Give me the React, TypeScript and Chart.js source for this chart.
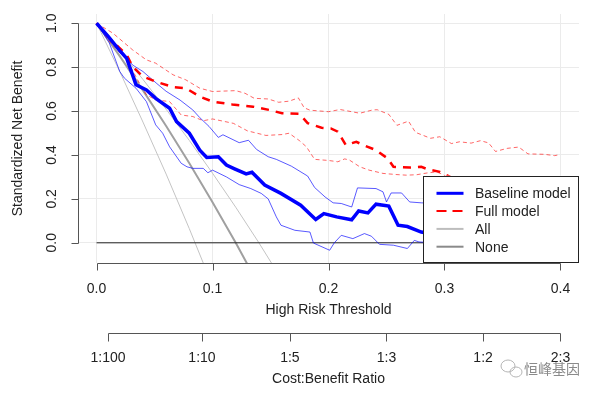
import React, { useEffect, useRef } from 'react';
import { Chart, registerables } from 'chart.js';

Chart.register(...registerables);

// ---- axis ticks ----
const X_TICKS = [0, 0.1, 0.2, 0.3, 0.4];
const X_TICK_LABELS = ['0.0', '0.1', '0.2', '0.3', '0.4'];
const Y_TICKS = [0, 0.2, 0.4, 0.6, 0.8, 1.0];
const Y_TICK_LABELS = ['0.0', '0.2', '0.4', '0.6', '0.8', '1.0'];
const CB_THRESHOLDS = [0.0099, 0.0909, 0.1667, 0.25, 0.3333, 0.4];
const CB_LABELS = ['1:100', '1:10', '1:5', '1:3', '1:2', '2:3'];

const X_TITLE = 'High Risk Threshold';
const CB_TITLE = 'Cost:Benefit Ratio';
const Y_TITLE = 'Standardized Net Benefit';
const LEGEND_LABELS = ['Baseline model', 'Full model', 'All', 'None'];

// ---- series (threshold, standardized net benefit) ----
const BASELINE_T = [0, 0.01, 0.02, 0.026, 0.034, 0.043, 0.051, 0.063, 0.069, 0.08, 0.089, 0.095, 0.105, 0.112, 0.119, 0.129, 0.134, 0.145, 0.159, 0.176, 0.189, 0.196, 0.207, 0.22, 0.226, 0.234, 0.241, 0.252, 0.26, 0.268, 0.28, 0.29];
const BASELINE_NB = [1.0, 0.94, 0.875, 0.84, 0.72, 0.696, 0.658, 0.613, 0.552, 0.499, 0.422, 0.389, 0.392, 0.354, 0.337, 0.314, 0.321, 0.263, 0.225, 0.171, 0.106, 0.133, 0.118, 0.105, 0.145, 0.136, 0.176, 0.167, 0.08, 0.074, 0.049, 0.04];

const BASE_UPPER_T = [0, 0.011, 0.02, 0.031, 0.04, 0.052, 0.06, 0.072, 0.083, 0.089, 0.097, 0.105, 0.109, 0.123, 0.131, 0.138, 0.148, 0.155, 0.168, 0.182, 0.188, 0.197, 0.204, 0.211, 0.22, 0.225, 0.241, 0.247, 0.25, 0.254, 0.263, 0.27, 0.28, 0.29];
const BASE_UPPER_NB = [1.0, 0.93, 0.885, 0.81, 0.78, 0.725, 0.69, 0.65, 0.605, 0.57, 0.53, 0.48, 0.492, 0.456, 0.467, 0.425, 0.392, 0.38, 0.349, 0.304, 0.252, 0.209, 0.182, 0.179, 0.163, 0.25, 0.247, 0.232, 0.186, 0.227, 0.227, 0.186, 0.182, 0.18];

const BASE_LOWER_T = [0, 0.011, 0.02, 0.024, 0.034, 0.043, 0.051, 0.057, 0.063, 0.073, 0.078, 0.083, 0.092, 0.096, 0.1, 0.112, 0.123, 0.133, 0.142, 0.148, 0.155, 0.159, 0.171, 0.184, 0.187, 0.201, 0.205, 0.211, 0.221, 0.231, 0.237, 0.244, 0.256, 0.268, 0.274, 0.278, 0.29];
const BASE_LOWER_NB = [1.0, 0.91, 0.78, 0.75, 0.704, 0.643, 0.537, 0.499, 0.437, 0.362, 0.346, 0.339, 0.339, 0.319, 0.331, 0.3, 0.265, 0.247, 0.225, 0.2, 0.118, 0.08, 0.057, 0.049, -0.001, -0.034, 0.0, 0.034, 0.019, 0.042, 0.03, -0.007, -0.011, -0.026, 0.011, 0.004, 0.0];

const FULL_T = [0, 0.011, 0.026, 0.031, 0.04, 0.051, 0.066, 0.077, 0.089, 0.1, 0.117, 0.135, 0.149, 0.16, 0.175, 0.182, 0.194, 0.202, 0.208, 0.215, 0.224, 0.23, 0.241, 0.251, 0.256, 0.27, 0.28, 0.286, 0.296, 0.305];
const FULL_NB = [1.0, 0.932, 0.856, 0.803, 0.757, 0.734, 0.709, 0.704, 0.666, 0.643, 0.63, 0.62, 0.605, 0.59, 0.587, 0.545, 0.524, 0.521, 0.506, 0.445, 0.46, 0.445, 0.422, 0.384, 0.346, 0.343, 0.346, 0.334, 0.323, 0.3];

const FULL_UPPER_T = [0, 0.014, 0.031, 0.043, 0.051, 0.066, 0.077, 0.089, 0.1, 0.12, 0.128, 0.136, 0.148, 0.157, 0.166, 0.174, 0.179, 0.184, 0.2, 0.21, 0.227, 0.238, 0.242, 0.252, 0.259, 0.269, 0.275, 0.288, 0.296, 0.306, 0.313, 0.323, 0.331, 0.338, 0.344, 0.354, 0.364, 0.372, 0.386, 0.395, 0.398];
const FULL_UPPER_NB = [1.0, 0.955, 0.879, 0.833, 0.818, 0.765, 0.742, 0.704, 0.689, 0.693, 0.681, 0.658, 0.655, 0.64, 0.645, 0.66, 0.615, 0.604, 0.597, 0.607, 0.59, 0.605, 0.606, 0.585, 0.535, 0.554, 0.503, 0.476, 0.483, 0.452, 0.46, 0.454, 0.465, 0.455, 0.416, 0.43, 0.436, 0.405, 0.403, 0.397, 0.4];

const FULL_LOWER_T = [0, 0.011, 0.026, 0.037, 0.043, 0.051, 0.063, 0.073, 0.083, 0.092, 0.1, 0.118, 0.13, 0.146, 0.16, 0.166, 0.175, 0.181, 0.188, 0.2, 0.208, 0.214, 0.218, 0.227, 0.235, 0.247, 0.258, 0.267, 0.276, 0.285, 0.293, 0.298, 0.305];
const FULL_LOWER_NB = [1.0, 0.917, 0.833, 0.727, 0.674, 0.651, 0.643, 0.582, 0.575, 0.556, 0.564, 0.544, 0.51, 0.489, 0.493, 0.499, 0.465, 0.437, 0.38, 0.375, 0.369, 0.382, 0.377, 0.346, 0.331, 0.316, 0.311, 0.308, 0.31, 0.318, 0.323, 0.313, 0.29];

const ALL_T = [0, 0.02, 0.04, 0.06, 0.08, 0.1, 0.12, 0.14, 0.16];
const ALL_NB = [1.0, 0.85, 0.694, 0.532, 0.362, 0.185, 0.0, -0.194, null];
const ALL_LOWER_NB = [1.0, 0.78, 0.55, 0.313, 0.064, -0.196, null, null, null];
const ALL_UPPER_NB = [1.0, 0.875, 0.744, 0.608, 0.466, 0.317, 0.162, 0.0, -0.17];

const NONE_T = [0, 0.4];
const NONE_NB = [0, 0];

const WATERMARK = '恒峰基因';

const FONT = '14px "Liberation Sans", Arial, sans-serif';
const TEXT = '#222';
const AXIS = '#555';

function pts(t: number[], v: (number | null)[]) {
  return t.map((x, i) => ({ x, y: v[i] })).filter((p) => p.y !== null) as { x: number; y: number }[];
}

const rPlugin = {
  id: 'rStyle',
  afterDatasetsDraw(chart: any) {
    const { ctx, chartArea: a } = chart;
    // legend box (bottom-right, inside plot region)
    const w = 156, h = 87.3;
    const left = a.right - w, top = a.bottom - h;
    ctx.save();
    ctx.fillStyle = '#fff';
    ctx.fillRect(left, top, w, h);
    ctx.strokeStyle = '#222';
    ctx.lineWidth = 1;
    ctx.strokeRect(Math.round(left) + 0.5, Math.round(top) + 0.5, Math.round(w) - 1, Math.round(h) - 1);
    const styles = [
      { c: '#0000ff', w: 3, d: [] as number[] },
      { c: '#ff0000', w: 2, d: [10, 6] },
      { c: '#bdbdbd', w: 2, d: [] },
      { c: '#8a8a8a', w: 2, d: [] },
    ];
    ctx.font = FONT;
    ctx.textBaseline = 'middle';
    ctx.textAlign = 'left';
    LEGEND_LABELS.forEach((lab, i) => {
      const yy = top + 17.6 + i * 17.8;
      const s = styles[i];
      ctx.beginPath();
      ctx.setLineDash(s.d);
      ctx.strokeStyle = s.c;
      ctx.lineWidth = s.w;
      ctx.moveTo(left + 13.5, yy);
      ctx.lineTo(left + 40.5, yy);
      ctx.stroke();
      ctx.setLineDash([]);
      ctx.fillStyle = TEXT;
      ctx.fillText(lab, left + 52, yy + 1);
    });
    ctx.restore();
  },
  afterDraw(chart: any) {
    const { ctx, chartArea: a, scales } = chart;
    const xs = scales.x, ys = scales.y;
    ctx.save();
    ctx.strokeStyle = AXIS;
    ctx.lineWidth = 1;
    ctx.fillStyle = TEXT;
    ctx.font = FONT;

    // y axis
    const ax = Math.round(a.left) + 0.5;
    const y0 = ys.getPixelForValue(Y_TICKS[0]);
    const y1 = ys.getPixelForValue(Y_TICKS[Y_TICKS.length - 1]);
    ctx.beginPath();
    ctx.moveTo(ax, Math.round(y0) + 0.5);
    ctx.lineTo(ax, Math.round(y1) + 0.5);
    Y_TICKS.forEach((v) => {
      const py = Math.round(ys.getPixelForValue(v)) + 0.5;
      ctx.moveTo(ax, py);
      ctx.lineTo(ax - 7, py);
    });
    ctx.stroke();
    ctx.textAlign = 'center';
    ctx.textBaseline = 'middle';
    Y_TICKS.forEach((v, i) => {
      const py = ys.getPixelForValue(v);
      ctx.save();
      ctx.translate(a.left - 26, py);
      ctx.rotate(-Math.PI / 2);
      ctx.fillText(Y_TICK_LABELS[i], 0, 0);
      ctx.restore();
    });
    ctx.save();
    ctx.translate(18, (a.top + a.bottom) / 2);
    ctx.rotate(-Math.PI / 2);
    ctx.fillText(Y_TITLE, 0, 0);
    ctx.restore();

    // x axis
    const by = Math.round(a.bottom) + 0.5;
    ctx.beginPath();
    ctx.moveTo(Math.round(xs.getPixelForValue(X_TICKS[0])) + 0.5, by);
    ctx.lineTo(Math.round(xs.getPixelForValue(X_TICKS[X_TICKS.length - 1])) + 0.5, by);
    X_TICKS.forEach((v) => {
      const px = Math.round(xs.getPixelForValue(v)) + 0.5;
      ctx.moveTo(px, by);
      ctx.lineTo(px, by + 7);
    });
    ctx.stroke();
    X_TICKS.forEach((v, i) => {
      ctx.fillText(X_TICK_LABELS[i], xs.getPixelForValue(v), a.bottom + 26);
    });
    ctx.fillText(X_TITLE, (a.left + a.right) / 2, a.bottom + 47);

    // cost:benefit axis
    const cy = Math.round(a.bottom + 70) + 0.5;
    ctx.beginPath();
    ctx.moveTo(Math.round(xs.getPixelForValue(CB_THRESHOLDS[0])) + 0.5, cy);
    ctx.lineTo(Math.round(xs.getPixelForValue(CB_THRESHOLDS[CB_THRESHOLDS.length - 1])) + 0.5, cy);
    CB_THRESHOLDS.forEach((v) => {
      const px = Math.round(xs.getPixelForValue(v)) + 0.5;
      ctx.moveTo(px, cy);
      ctx.lineTo(px, cy + 8);
    });
    ctx.stroke();
    CB_THRESHOLDS.forEach((v, i) => {
      ctx.fillText(CB_LABELS[i], xs.getPixelForValue(v), a.bottom + 95);
    });
    ctx.fillText(CB_TITLE, (a.left + a.right) / 2, a.bottom + 116);

    // watermark
    ctx.strokeStyle = '#b5b5b5';
    ctx.beginPath();
    ctx.ellipse(508, 366, 7, 6, 0, 0, Math.PI * 2);
    ctx.stroke();
    ctx.beginPath();
    ctx.ellipse(516, 372, 6, 5, 0, 0, Math.PI * 2);
    ctx.stroke();
    ctx.fillStyle = '#8a8a8a';
    ctx.font = '14px "Noto Sans CJK SC", sans-serif';
    ctx.textAlign = 'left';
    ctx.fillText(WATERMARK, 524, 369);
    ctx.restore();
  },
};

export default function App() {
  const ref = useRef<HTMLCanvasElement>(null);
  useEffect(() => {
    const thinBlue = 'rgba(0,0,255,0.65)';
    const thinRed = 'rgba(255,0,0,0.6)';
    const chart = new Chart(ref.current as HTMLCanvasElement, {
      type: 'line',
      data: {
        datasets: [
          { label: 'Baseline model', data: pts(BASELINE_T, BASELINE_NB), borderColor: '#0000ff', borderWidth: 3.5 },
          { label: 'Full model', data: pts(FULL_T, FULL_NB), borderColor: '#ff0000', borderWidth: 2.5, borderDash: [8, 7] },
          { label: 'Baseline upper', data: pts(BASE_UPPER_T, BASE_UPPER_NB), borderColor: thinBlue, borderWidth: 1 },
          { label: 'Baseline lower', data: pts(BASE_LOWER_T, BASE_LOWER_NB), borderColor: thinBlue, borderWidth: 1 },
          { label: 'Full upper', data: pts(FULL_UPPER_T, FULL_UPPER_NB), borderColor: thinRed, borderWidth: 1, borderDash: [4, 3] },
          { label: 'Full lower', data: pts(FULL_LOWER_T, FULL_LOWER_NB), borderColor: thinRed, borderWidth: 1, borderDash: [4, 3] },
          { label: 'None', data: pts(NONE_T, NONE_NB), borderColor: '#222', borderWidth: 1 },
          { label: 'All', data: pts(ALL_T, ALL_NB), borderColor: '#a0a0a0', borderWidth: 2 },
          { label: 'All lower', data: pts(ALL_T, ALL_LOWER_NB), borderColor: '#c4c4c4', borderWidth: 1 },
          { label: 'All upper', data: pts(ALL_T, ALL_UPPER_NB), borderColor: '#c4c4c4', borderWidth: 1 },
        ].map((d) => ({ ...d, pointRadius: 0, tension: 0, fill: false, clip: 0 })) as any,
      },
      options: {
        animation: false,
        responsive: false,
        devicePixelRatio: 1,
        layout: { padding: { left: 78, right: 23, top: 14, bottom: 134 } },
        plugins: { legend: { display: false }, tooltip: { enabled: false } },
        scales: {
          x: {
            type: 'linear',
            min: -0.016,
            max: 0.416,
            afterBuildTicks: (s: any) => { s.ticks = X_TICKS.map((v) => ({ value: v })); },
            ticks: { display: false },
            grid: { color: '#ebebeb', lineWidth: 1, drawTicks: false },
            border: { display: false },
          },
          y: {
            type: 'linear',
            min: -0.092,
            max: 1.042,
            afterBuildTicks: (s: any) => { s.ticks = Y_TICKS.map((v) => ({ value: v })); },
            ticks: { display: false },
            grid: { color: '#ebebeb', lineWidth: 1, drawTicks: false },
            border: { display: false },
          },
        },
      },
      plugins: [rPlugin],
    });
    return () => chart.destroy();
  }, []);
  return (
    <div style={{ width: 602, height: 397 }}>
      <style>{'body{margin:0}'}</style>
      <canvas ref={ref} width={602} height={397} style={{ display: 'block', width: 602, height: 397 }} />
    </div>
  );
}
